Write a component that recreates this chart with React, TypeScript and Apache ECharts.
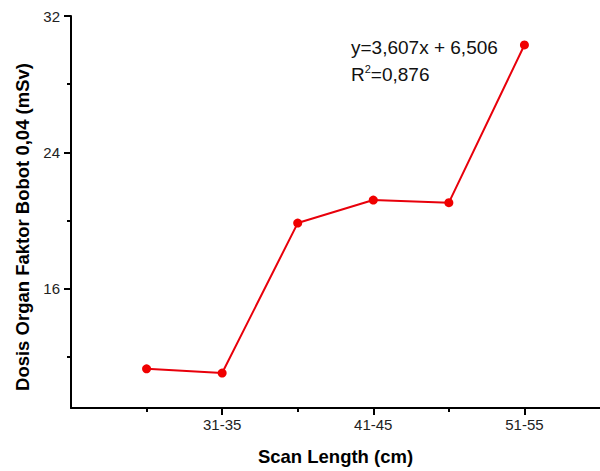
import React, { useEffect, useRef } from "react";
import * as echarts from "echarts";

const categories = ["26-30", "31-35", "36-40", "41-45", "46-50", "51-55"];
const doseValues = [11.3, 11.05, 19.85, 21.2, 21.05, 30.3];
const yMajorTicks = [16, 24, 32];
const yMinorTicks = [12, 20, 28];
const xMajorTicks = [2, 4, 6];
const xMinorTicks = [1, 3, 5];
const equationText = "y=3,607x + 6,506";
const r2Value = "=0,876";
const xTitle = "Scan Length (cm)";
const yTitle = "Dosis Organ Faktor Bobot 0,04 (mSv)";

const FONT = "'Liberation Sans', Arial, sans-serif";

export default function App() {
  const ref = useRef<HTMLDivElement>(null);
  useEffect(() => {
    if (!ref.current) return;
    const chart = echarts.init(ref.current, undefined, { renderer: "svg" });
    const axisLineStyle = { color: "#000", width: 2 };
    chart.setOption({
      animation: false,
      backgroundColor: "#fff",
      textStyle: { fontFamily: FONT },
      grid: { left: 71, right: 0, top: 16, bottom: 62, containLabel: false },
      xAxis: [
        {
          type: "value",
          position: "bottom",
          min: 0,
          max: 7,
          axisLine: { show: true, lineStyle: axisLineStyle },
          axisTick: { show: true, customValues: xMajorTicks, length: 7, lineStyle: axisLineStyle },
          axisLabel: {
            show: true,
            customValues: xMajorTicks,
            formatter: (v: number) => categories[Math.round(v) - 1] ?? "",
            margin: 9,
            fontSize: 15,
            color: "#222",
            fontFamily: FONT,
          },
          splitLine: { show: false },
          name: xTitle,
          nameLocation: "middle",
          nameGap: 39,
          nameTextStyle: { fontSize: 18.5, fontWeight: "bold", color: "#000", fontFamily: FONT },
        },
        {
          type: "value",
          position: "bottom",
          min: 0,
          max: 7,
          axisLine: { show: false },
          axisTick: { show: true, customValues: xMinorTicks, length: 4, lineStyle: axisLineStyle },
          axisLabel: { show: false },
          splitLine: { show: false },
        },
      ],
      yAxis: [
        {
          type: "value",
          position: "left",
          min: 9,
          max: 32,
          axisLine: { show: true, lineStyle: axisLineStyle },
          axisTick: { show: true, customValues: yMajorTicks, length: 7, lineStyle: axisLineStyle },
          axisLabel: {
            show: true,
            customValues: yMajorTicks,
            margin: 11,
            fontSize: 15,
            color: "#222",
            fontFamily: FONT,
          },
          splitLine: { show: false },
          name: yTitle,
          nameLocation: "middle",
          nameGap: 39,
          nameTextStyle: {
            fontSize: 18.5,
            fontWeight: "bold",
            color: "#000",
            fontFamily: FONT,
            padding: [0, 30, 0, 0],
          },
        },
        {
          type: "value",
          position: "left",
          min: 9,
          max: 32,
          axisLine: { show: false },
          axisTick: { show: true, customValues: yMinorTicks, length: 4, lineStyle: axisLineStyle },
          axisLabel: { show: false },
          splitLine: { show: false },
        },
      ],
      series: [
        {
          type: "line",
          xAxisIndex: 0,
          yAxisIndex: 0,
          data: doseValues.map((v, i) => [i + 1, v]),
          symbol: "circle",
          symbolSize: 9,
          lineStyle: { color: "#e8000b", width: 2 },
          itemStyle: { color: "#f00000" },
        },
      ],
      graphic: [
        {
          type: "text",
          left: 351,
          top: 38,
          style: {
            text: `{a|${equationText}}\n{a|R}{s|2}{a|${r2Value}}`,
            rich: {
              a: { fontSize: 19, fontFamily: FONT, fill: "#111", lineHeight: 27 },
              s: { fontSize: 11, fontFamily: FONT, fill: "#111", verticalAlign: "top", lineHeight: 27, padding: [2, 0, 0, 0] },
            },
          },
        },
      ],
    });
    return () => chart.dispose();
  }, []);
  return (
    <div
      ref={ref}
      style={{ position: "absolute", left: 0, top: 0, width: 600, height: 471 }}
    />
  );
}
